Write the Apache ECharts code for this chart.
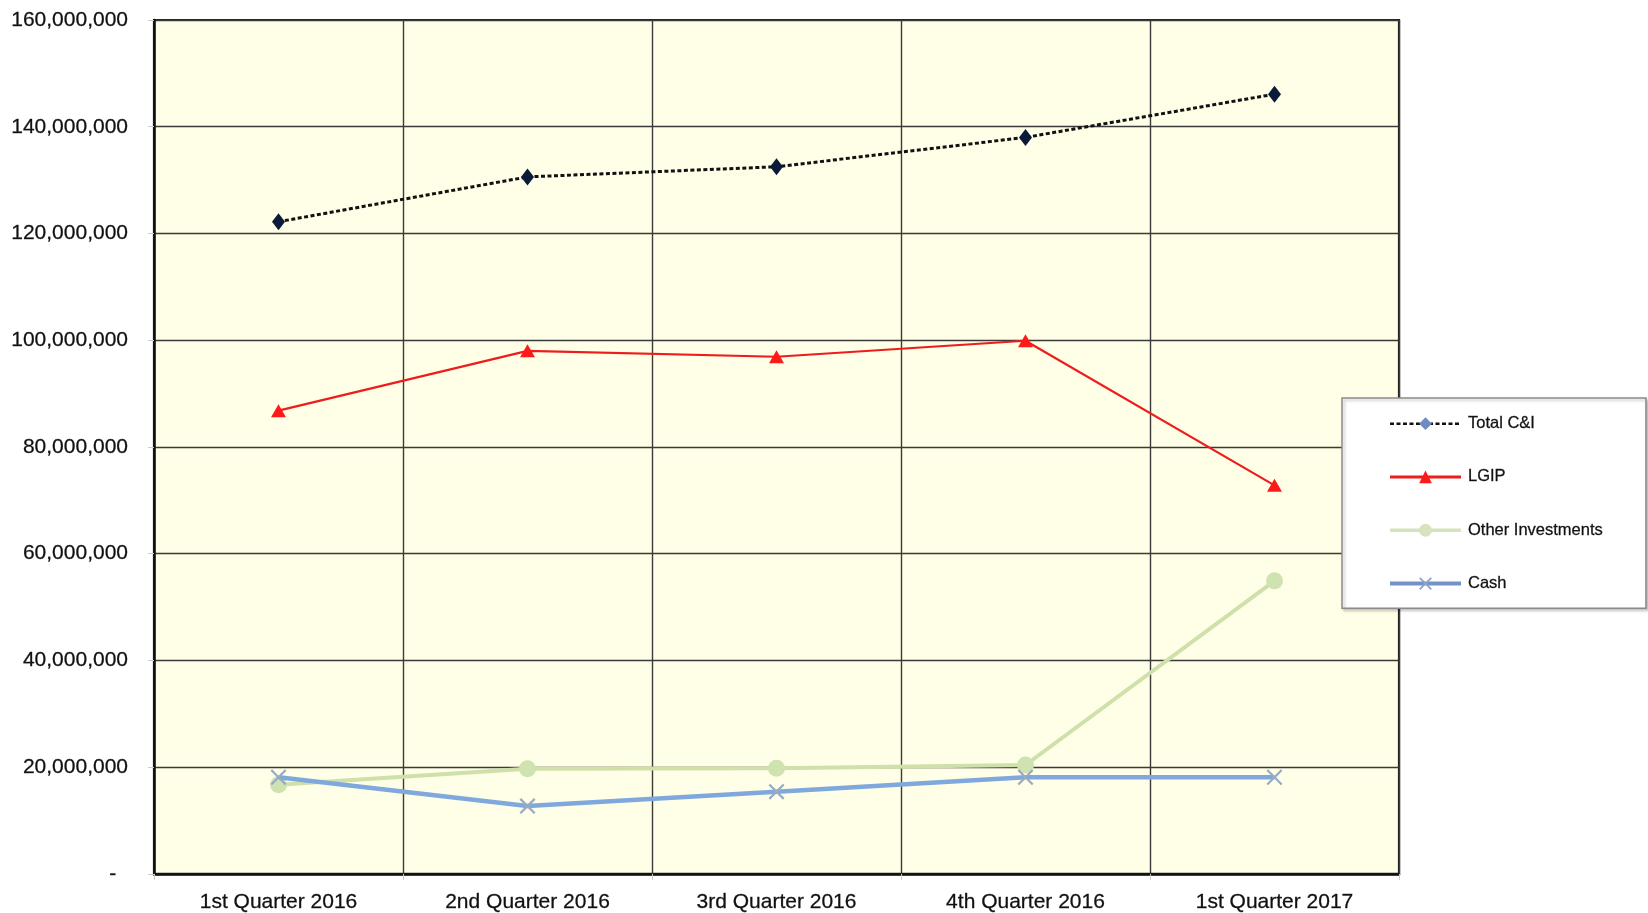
<!DOCTYPE html>
<html>
<head>
<meta charset="utf-8">
<script src="https://cdn.jsdelivr.net/npm/echarts@6/dist/echarts.min.js"></script>
<style>
html,body{margin:0;padding:0;background:#fff;}
#chart{width:1648px;height:913px;}
</style>
</head>
<body>
<div id="chart"></div>
<script>
const categories = ['1st Quarter 2016', '2nd Quarter 2016', '3rd Quarter 2016', '4th Quarter 2016', '1st Quarter 2017'];
const totalCI = [122200000, 130600000, 132500000, 138000000, 146100000];
const lgip = [86800000, 98000000, 96900000, 99900000, 72800000];
const otherInvestments = [16700000, 19700000, 19800000, 20400000, 54900000];
const cash = [18100000, 12700000, 15400000, 18100000, 18100000];
const seriesNames = ['Total C&I', 'LGIP', 'Other Investments', 'Cash'];
const yTicks = { min: 0, max: 160000000, interval: 20000000 };

const xPath = 'path://M0,1 L1,0 L5,4 L9,0 L10,1 L6,5 L10,9 L9,10 L5,6 L1,10 L0,9 L4,5 Z';
const fontFam = 'Liberation Sans, Arial, sans-serif';

const chart = echarts.init(document.getElementById('chart'));
chart.setOption({
  animation: false,
  backgroundColor: '#ffffff',
  grid: {
    left: 154, right: 249, top: 20, bottom: 39,
    show: true,
    backgroundColor: '#fffee6',
    borderColor: '#222',
    borderWidth: 2.2
  },
  legend: {
    orient: 'vertical',
    left: 1342, top: 398,
    padding: [17, 43, 16, 46],
    itemGap: 36,
    itemWidth: 71,
    itemHeight: 16,
    backgroundColor: '#ffffff',
    borderColor: '#8a8a8a',
    borderWidth: 1.5,
    shadowColor: 'rgba(0,0,0,0.25)',
    shadowBlur: 3,
    shadowOffsetX: 2,
    shadowOffsetY: 2,
    textStyle: { fontFamily: fontFam, fontSize: 16.5, color: '#111', padding: [0,0,0,2], textBorderColor: '#333', textBorderWidth: 0.3 },
    data: [
      { name: seriesNames[0], itemStyle: { color: '#6f8cc0' }, lineStyle: { width: 2.5 } },
      { name: seriesNames[1], lineStyle: { width: 3 } },
      { name: seriesNames[2], itemStyle: { color: '#d6e3bc' }, lineStyle: { width: 3.5, color: '#d6e3bc' } },
      { name: seriesNames[3], itemStyle: { color: '#8fa3c8' }, lineStyle: { width: 4, color: '#7393c4' } }
    ]
  },
  xAxis: {
    type: 'category',
    data: categories,
    boundaryGap: true,
    axisLine: { show: true, lineStyle: { color: '#111', width: 2.5 } },
    axisTick: { show: true, length: 6, lineStyle: { color: '#ccc' } },
    splitLine: { show: true, lineStyle: { color: '#3a3a3a', width: 1.4 } },
    axisLabel: { fontFamily: fontFam, fontSize: 21, color: '#111', margin: 18, textBorderColor: '#333', textBorderWidth: 0.3 }
  },
  yAxis: {
    type: 'value',
    min: yTicks.min, max: yTicks.max, interval: yTicks.interval,
    axisLine: { show: true, lineStyle: { color: '#111', width: 2.5 } },
    axisTick: { show: true, length: 6, lineStyle: { color: '#ccc' } },
    splitLine: { show: true, lineStyle: { color: '#3a3a3a', width: 1.4 } },
    axisLabel: {
      fontFamily: fontFam, fontSize: 21, color: '#111', margin: 26, textBorderColor: '#333', textBorderWidth: 0.3,
      formatter: v => v === 0 ? '-  ' : v.toLocaleString('en-US')
    }
  },
  series: [
    {
      name: seriesNames[0], type: 'line', data: totalCI,
      symbol: 'diamond', symbolSize: [13, 17],
      itemStyle: { color: '#0c1a3a' },
      lineStyle: { color: '#111', width: 3, type: [4, 2.5] },
      z: 4
    },
    {
      name: seriesNames[1], type: 'line', data: lgip,
      symbol: 'triangle', symbolSize: [15, 13],
      itemStyle: { color: '#ff1a1a' },
      lineStyle: { color: '#ee1c1c', width: 2.2 },
      z: 3
    },
    {
      name: seriesNames[2], type: 'line', data: otherInvestments,
      symbol: 'circle', symbolSize: 17,
      itemStyle: { color: '#cfe3b0' },
      lineStyle: { color: '#cfe0aa', width: 4 },
      z: 2
    },
    {
      name: seriesNames[3], type: 'line', data: cash,
      symbol: xPath, symbolSize: 16,
      itemStyle: { color: '#9aaac4' },
      lineStyle: { color: '#7fa8dc', width: 4.5 },
      z: 5
    }
  ]
});
</script>
</body>
</html>
